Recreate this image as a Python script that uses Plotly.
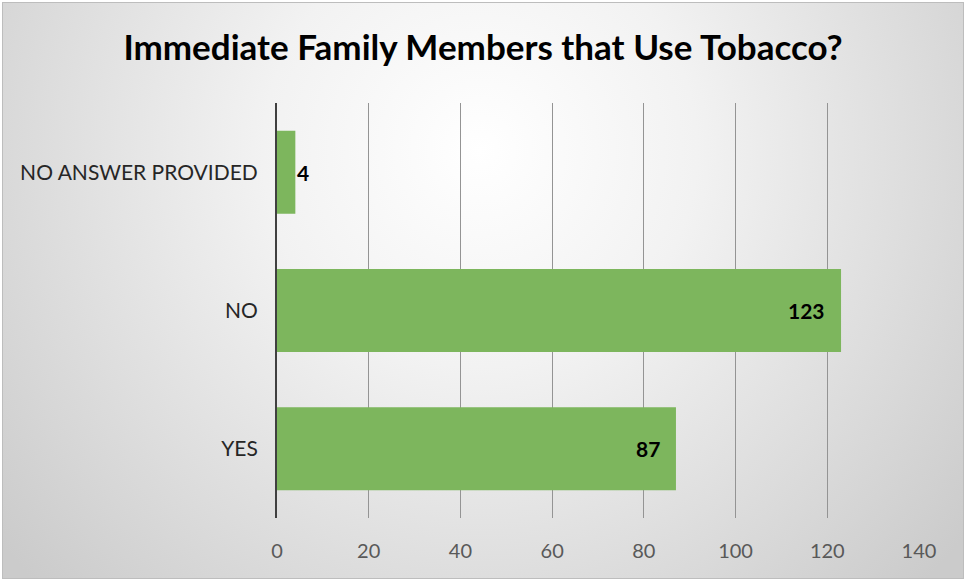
import base64
import plotly.graph_objects as go

categories = ["YES", "NO", "NO ANSWER PROVIDED"]
counts = [87, 123, 4]
x_ticks = [0, 20, 40, 60, 80, 100, 120, 140]
title_text = "Immediate Family Members that Use Tobacco?"

W, H = 966, 581
ml, mr, mt, mb = 277, 47, 103, 63
pw, ph = W - ml - mr, H - mt - mb

svg = f'''<svg xmlns="http://www.w3.org/2000/svg" width="{W}" height="{H}" viewBox="0 0 {W} {H}">
<defs><radialGradient id="g" cx="480" cy="150" r="620" gradientUnits="userSpaceOnUse">
<stop offset="0" stop-color="#ffffff"/><stop offset="0.35" stop-color="#f2f2f2"/><stop offset="1" stop-color="#cbcbcb"/></radialGradient></defs>
<rect x="0" y="0" width="{W}" height="{H}" fill="#ffffff"/>
<rect x="2.5" y="2.5" width="{W-5}" height="{H-5}" fill="url(#g)" stroke="#bdbdbd" stroke-width="1"/>
</svg>'''
src = "data:image/svg+xml;base64," + base64.b64encode(svg.encode()).decode()

green = "#7db65d"
fig = go.Figure()
fig.add_trace(go.Bar(
    y=categories, x=counts, orientation="h",
    marker=dict(color=green, line=dict(width=0)),
    hoverinfo="skip",
))

annotations = []
for c, v in zip(categories, counts):
    inside = v > 10
    annotations.append(dict(
        x=v, y=c, xref="x", yref="y", text=f"<b>{v}</b>", showarrow=False,
        xanchor="right" if inside else "left", xshift=-14 if inside else 0,
        font=dict(family="Lato", size=21, color="#000000"),
    ))

fig.update_layout(
    width=W, height=H,
    margin=dict(l=ml, r=mr, t=mt, b=mb, pad=0),
    paper_bgcolor="#ffffff",
    plot_bgcolor="rgba(0,0,0,0)",
    bargap=0.4,
    showlegend=False,
    title=dict(text=f"<b>{title_text}</b>", x=0.5, xref="container", xanchor="center",
               y=1 - 48 / H, yref="container", yanchor="middle",
               font=dict(family="Lato", size=35, color="#000000")),
    images=[dict(source=src, xref="paper", yref="paper",
                 x=-ml / pw, y=1 + mt / ph, sizex=W / pw, sizey=H / ph,
                 xanchor="left", yanchor="top", sizing="stretch", layer="below")],
    annotations=annotations,
)
fig.update_xaxes(
    range=[0, 140], tickvals=x_ticks, ticktext=[str(t) for t in x_ticks],
    showgrid=True, gridcolor="#949494", gridwidth=1.2,
    zeroline=False, showline=False, ticks="",
    ticklabelstandoff=19,
    tickfont=dict(family="Lato", size=20, color="#595959"),
    fixedrange=True,
)
fig.update_yaxes(
    categoryorder="array", categoryarray=categories,
    showgrid=False, zeroline=False,
    showline=True, linecolor="#404040", linewidth=2,
    ticks="", ticklabelstandoff=13,
    tickfont=dict(family="Lato", size=21, color="#262626"),
    fixedrange=True,
)

fig.write_html("out.html", config={"displayModeBar": False},
               post_script="document.body.style.margin='0';document.body.style.overflow='hidden';")
